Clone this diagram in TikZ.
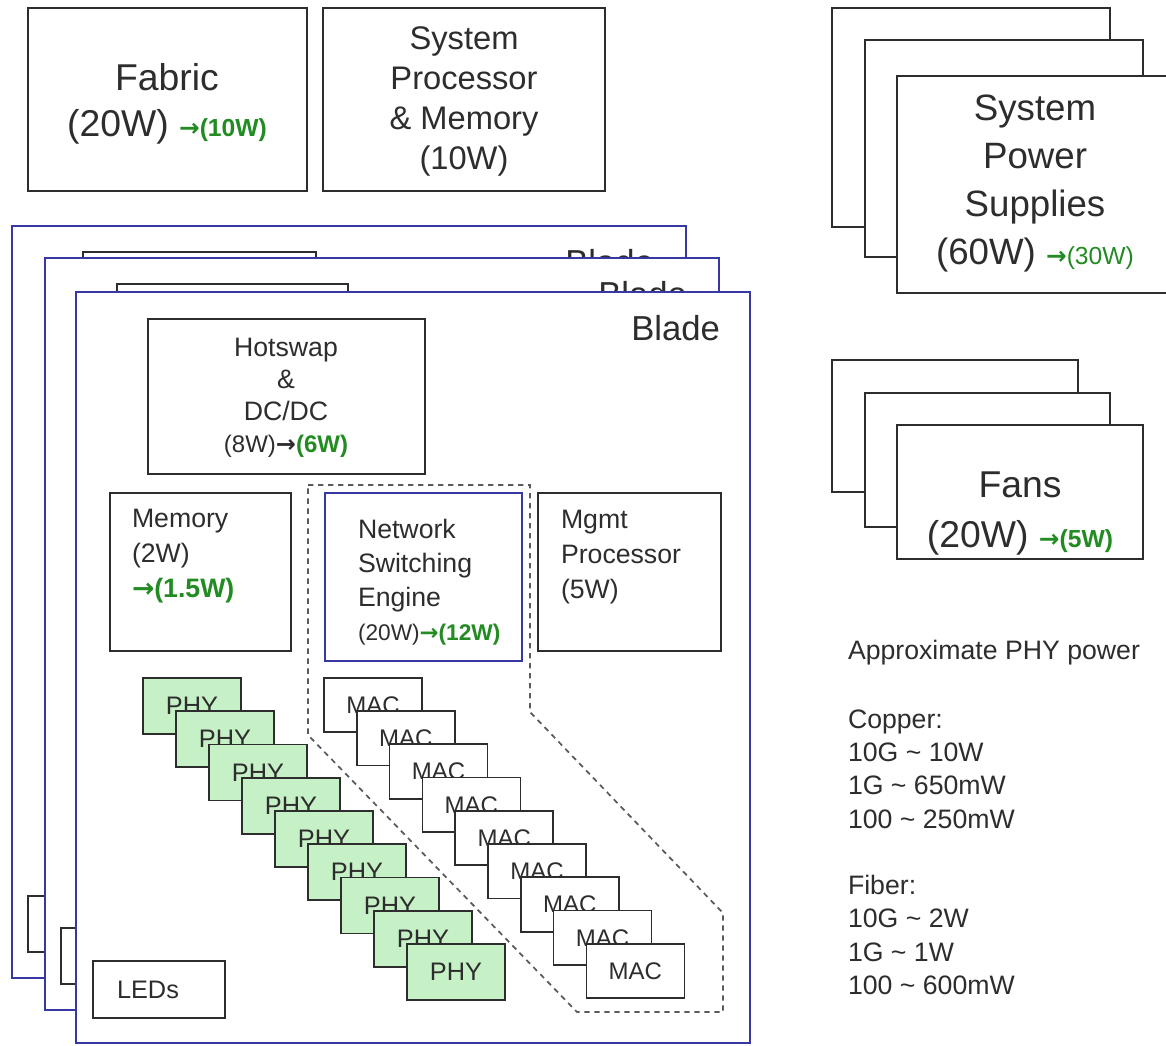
\documentclass[tikz,border=0pt]{standalone}
\usepackage{fontspec}
\setmainfont{Liberation Sans}
\newfontfamily\arrowfont{DejaVu Sans}
\definecolor{grn}{RGB}{34,139,34}
\definecolor{bblue}{RGB}{55,55,165}
\definecolor{phyg}{RGB}{198,240,198}
\definecolor{ink}{RGB}{45,45,45}
\definecolor{dashgray}{RGB}{90,90,90}
\newcommand\arr{{\arrowfont\bfseries →}}
\newcommand\gw[1]{\textcolor{grn}{#1}}
\newcommand\gb[1]{\textcolor{grn}{\bfseries #1}}
\newcommand\fsz[2]{\fontsize{#1}{#2}\selectfont}
\newcommand\bx[6]{\node[#6, minimum width={((#4)-(#2))*0.75pt}, minimum height={((#5)-(#3))*0.75pt}] (#1) at ({((#2)+(#4))/2},{((#3)+(#5))/2}) {};}
\tikzset{
  rbox/.style={draw=ink, line width=1.4pt, fill=white, inner sep=0pt, outer sep=0pt},
  nsebox/.style={draw=bblue, line width=1.4pt, fill=white, inner sep=0pt, outer sep=0pt},
  bladebox/.style={draw=bblue, line width=1.1pt, fill=white, inner sep=0pt, outer sep=0pt},
  phybox/.style={draw=ink, line width=1.3pt, fill=phyg, inner sep=0pt, outer sep=0pt,
     minimum width=73.5pt, minimum height=42pt, text=ink, font=\fsz{19pt}{22pt}},
  macbox/.style={draw=ink, line width=1.3pt, fill=white, inner sep=0pt, outer sep=0pt,
     minimum width=73.5pt, minimum height=41pt, text=ink, font=\fsz{18pt}{22pt}},
  txt/.style={inner sep=0pt, outer sep=0pt, text=ink},
  bladelbl/.style={txt, font=\fsz{26pt}{30pt}},
  dashline/.style={draw=dashgray, line width=1.3pt, dash pattern=on 4pt off 3.5pt},
}
\begin{document}
\begin{tikzpicture}[x=0.75pt,y=-0.75pt]
\useasboundingbox (0,0) rectangle (1166,1045);
\fill[white] (0,0) rectangle (1166,1045);

% ---------- top boxes ----------
\bx{fabric}{28}{8}{307}{191}{rbox}
\node[txt, align=center, font=\fsz{28pt}{35pt}] (fabrict) at (167,104) {Fabric\\(20W) {\fsz{18.5pt}{20pt}\gb{\arr(10W)}}};
\bx{sysproc}{323}{8}{605}{191}{rbox}
\node[txt, align=center, font=\fsz{24.5pt}{30pt}] (sysproct) at (464,101) {System\\Processor\\\& Memory\\(10W)};

% ---------- power supplies ----------
\bx{psA}{832}{8}{1110}{227}{rbox}
\bx{psB}{865}{40}{1143}{257}{rbox}
\bx{psC}{897}{76}{1180}{293}{rbox}
\node[txt, align=center, font=\fsz{27.5pt}{36pt}] (pst) at (1035,183) {System\\Power\\Supplies\\(60W) {\fsz{18.5pt}{20pt}\gw{\arr(30W)}}};

% ---------- fans ----------
\bx{fanA}{832}{360}{1078}{492}{rbox}
\bx{fanB}{865}{393}{1110}{527}{rbox}
\bx{fanC}{897}{425}{1143}{559}{rbox}
\node[txt, align=center, font=\fsz{28pt}{37.5pt}] (fant) at (1020,514) {Fans\\(20W) {\fsz{18.5pt}{20pt}\gb{\arr(5W)}}};

% ---------- PHY power table ----------
\node[txt, anchor=west, font=\fsz{20pt}{25pt}] (approx) at (848,653) {Approximate PHY power};
\node[txt, anchor=west, align=left, font=\fsz{20pt}{25pt}] (copper) at (848,769) {Copper:\\10G \textasciitilde{} 10W\\1G \textasciitilde{} 650mW\\100 \textasciitilde{} 250mW};
\node[txt, anchor=west, align=left, font=\fsz{20pt}{25pt}] (fiber) at (848,935) {Fiber:\\10G \textasciitilde{} 2W\\1G \textasciitilde{} 1W\\100 \textasciitilde{} 600mW};

% ---------- blade 1 (back) ----------
\bx{bladeA}{12}{226}{686}{978}{bladebox}
\node[bladelbl, anchor=east] (bladeAl) at (654,262) {Blade};
\bx{hsA}{83}{252}{316}{407}{rbox}
\bx{ledA}{28}{896}{160}{952}{rbox}

% ---------- blade 2 ----------
\bx{bladeB}{45}{258}{719}{1010}{bladebox}
\node[bladelbl, anchor=east] (bladeBl) at (687,294) {Blade};
\bx{hsB}{117}{284}{348}{439}{rbox}
\bx{ledB}{61}{928}{193}{984}{rbox}

% ---------- blade 3 (front) ----------
\bx{bladeC}{76}{292}{750}{1043}{bladebox}
\node[bladelbl, anchor=east] (bladeCl) at (720,328) {Blade};

\bx{hotswap}{148}{319}{425}{474}{rbox}
\node[txt, align=center, font=\fsz{20pt}{24pt}] (hotswapt) at (286,398) {Hotswap\\\&\\DC/DC\\{\fsz{18pt}{24pt}(8W)\arr\gb{(6W)}}};

\bx{memory}{110}{493}{291}{651}{rbox}
\node[txt, anchor=west, align=left, font=\fsz{20pt}{26pt}] (memoryt) at (132,556) {Memory\\(2W)\\\gb{\arr(1.5W)}};

\draw[dashline] (308,485) -- (530,485) -- (530,712) -- (723,913) -- (723,1012) -- (577,1012) -- (308,735) -- cycle;

\bx{nse}{325}{493}{522}{661}{nsebox}
\node[txt, anchor=west, align=left, font=\fsz{20pt}{25.5pt}] (nset) at (358,582) {Network\\Switching\\Engine\\{\fsz{17pt}{25.5pt}(20W)\gb{\arr(12W)}}};

\bx{mgmt}{538}{493}{721}{651}{rbox}
\node[txt, anchor=west, align=left, font=\fsz{20pt}{26.5pt}] (mgmtt) at (561,557) {Mgmt\\Processor\\(5W)};

\foreach \k in {0,...,8} {
  \node[phybox] (phy\k) at ({192+33*\k},{706+33.25*\k}) {PHY};
}
\foreach \k in {0,...,8} {
  \node[macbox] (mac\k) at ({373+32.8*\k},{705+33.25*\k}) {MAC};
}

\bx{leds}{93}{961}{225}{1018}{rbox}
\node[txt, anchor=west, font=\fsz{19pt}{22pt}] (ledst) at (117,990) {LEDs};
\end{tikzpicture}
\end{document}
